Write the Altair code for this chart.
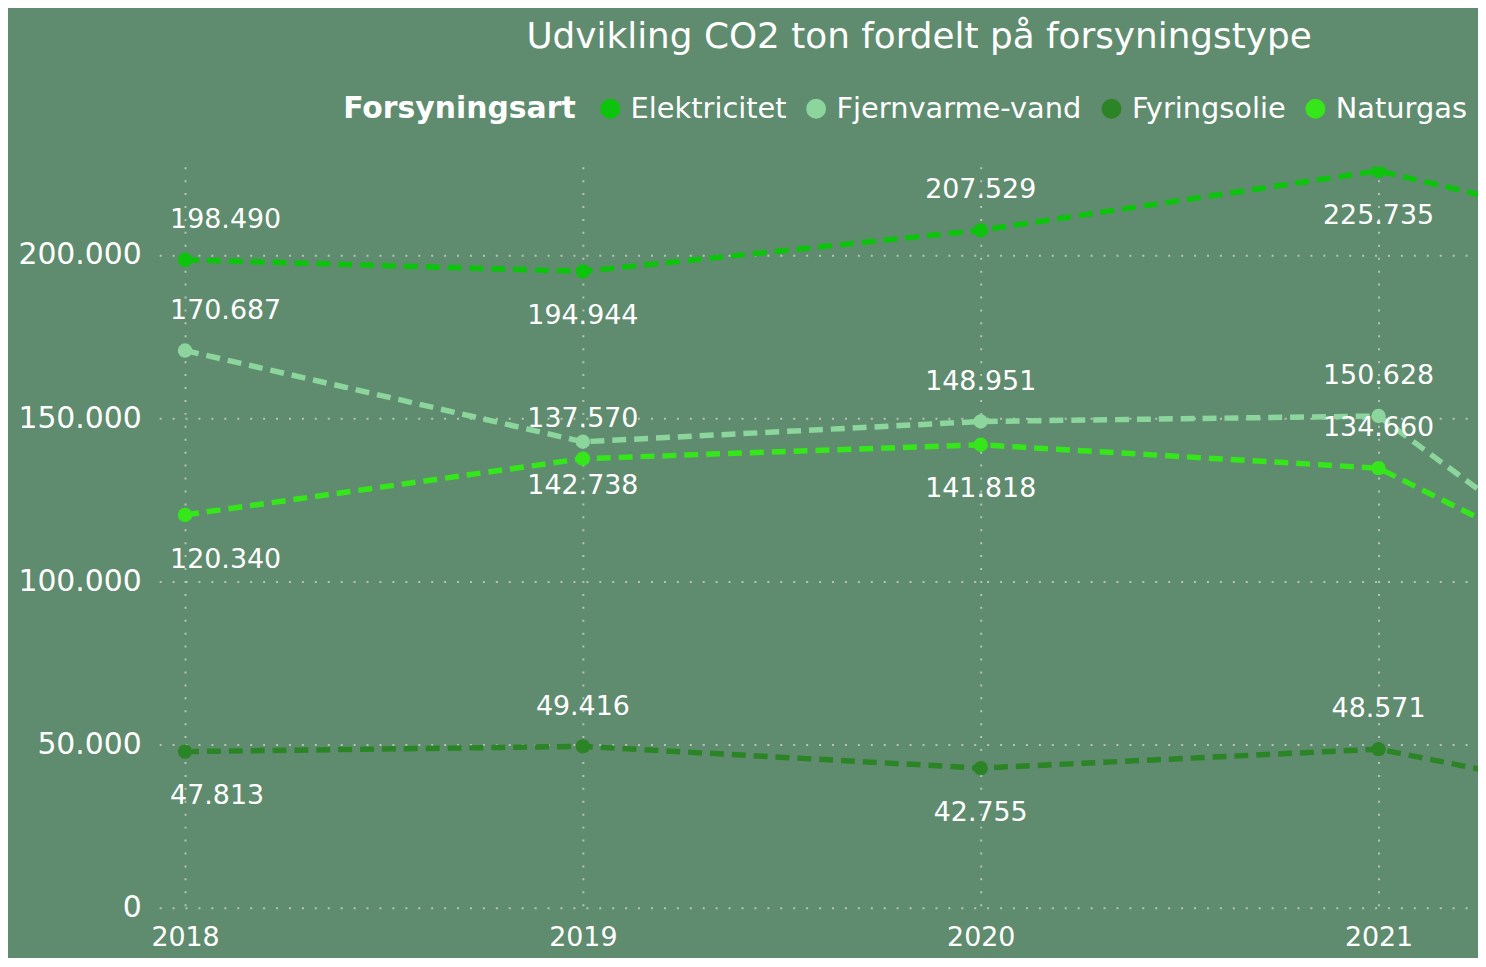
import altair as alt
import pandas as pd

years = [2018, 2019, 2020, 2021, 2022]
series = ["Elektricitet", "Fjernvarme-vand", "Fyringsolie", "Naturgas"]
elektricitet = [198490, 194944, 207529, 225735, 197000]
fjernvarme = [170687, 142738, 148951, 150628, 61000]
fyringsolie = [47813, 49416, 42755, 48571, 24400]
naturgas = [120340, 137570, 141818, 134660, 73800]
colors = ["#0BC40B", "#8CD69E", "#2B8426", "#35E61A"]

# label placement relative to the point (2018..2021)
elek_pos = ["above", "below", "above", "below"]
fjern_pos = ["above", "below", "above", "above"]
fyr_pos = ["below", "above", "below", "above"]
natur_pos = ["below", "above", "below", "above"]

y_ticks = [0, 50000, 100000, 150000, 200000]
x_ticks = [2018, 2019, 2020, 2021]

values = [elektricitet, fjernvarme, fyringsolie, naturgas]
positions = [elek_pos, fjern_pos, fyr_pos, natur_pos]
rows = []
for s, vals, pos in zip(series, values, positions):
    for i, (yr, v) in enumerate(zip(years, vals)):
        rows.append({
            "year": yr,
            "series": s,
            "value": v,
            "label": f"{v:,}".replace(",", "."),
            "pos": pos[i] if i < len(pos) else "none",
        })
df = pd.DataFrame(rows)

FONT = "DejaVu Sans"
BG = "#5F8C6E"
GRID = "#C3CEC6"

color_scale = alt.Scale(domain=series, range=colors)

base = alt.Chart(df).encode(
    x=alt.X(
        "year:Q",
        scale=alt.Scale(domain=[2017.935, 2021.25], nice=False, zero=False),
        axis=alt.Axis(
            values=x_ticks, format="d", title=None, domain=False, ticks=False,
            labelFontSize=27, labelPadding=17, labelColor="#FFFFFF", labelFont=FONT,
            grid=True, gridDash=[2, 11], gridColor=GRID, gridWidth=2, gridOpacity=0.85,
        ),
    ),
    y=alt.Y(
        "value:Q",
        scale=alt.Scale(domain=[0, 227000], nice=False),
        axis=alt.Axis(
            values=y_ticks, title=None, domain=False, ticks=False,
            labelExpr="replace(format(datum.value, ','), ',', '.')",
            labelFontSize=30, labelPadding=18, labelColor="#FFFFFF", labelFont=FONT,
            grid=True, gridDash=[2, 11], gridColor=GRID, gridWidth=2, gridOpacity=0.85,
        ),
    ),
)

line_layers = [
    base.transform_filter(alt.datum.series == s).mark_line(
        color=c, strokeDash=[14, 8], strokeWidth=5.5, clip=True
    )
    for s, c in zip(series, colors)
]

points = base.mark_circle(size=210, opacity=1, clip=True).encode(
    color=alt.Color(
        "series:N",
        scale=color_scale,
        legend=alt.Legend(
            title="Forsyningsart", orient="none", legendX=185, legendY=-73,
            direction="horizontal", titleOrient="left", titleFontSize=30,
            titleFont=FONT, titleFontWeight="bold", titleColor="#FFFFFF",
            titlePadding=20, titleBaseline="middle", titleLimit=500,
            labelFontSize=29, labelFont=FONT, labelColor="#FFFFFF", labelLimit=500,
            symbolSize=400, symbolType="circle", symbolStrokeWidth=0,
            labelOffset=6, columnPadding=15,
        ),
    )
)

text_style = dict(fontSize=27, font=FONT, color="#FFFFFF", baseline="middle", clip=True)

lab_above_first = base.transform_filter(
    (alt.datum.pos == "above") & (alt.datum.year == 2018)
).mark_text(dy=-40, dx=-15, align="left", **text_style).encode(text="label:N")
lab_below_first = base.transform_filter(
    (alt.datum.pos == "below") & (alt.datum.year == 2018)
).mark_text(dy=45, dx=-15, align="left", **text_style).encode(text="label:N")
lab_above = base.transform_filter(
    (alt.datum.pos == "above") & (alt.datum.year > 2018)
).mark_text(dy=-40, align="center", **text_style).encode(text="label:N")
lab_below = base.transform_filter(
    (alt.datum.pos == "below") & (alt.datum.year > 2018)
).mark_text(dy=45, align="center", **text_style).encode(text="label:N")

chart = alt.layer(
    *line_layers, points, lab_above_first, lab_below_first, lab_above, lab_below
).properties(
    width=1326,
    height=745,
    title=alt.TitleParams(
        text="Udvikling CO2 ton fordelt på forsyningstype",
        fontSize=36, font=FONT, fontWeight="normal", color="#FFFFFF",
        anchor="middle", dx=101, dy=-34,
    ),
    autosize=alt.AutoSizeParams(type="none"),
    padding={"left": 152, "top": 157, "right": 0, "bottom": 48},
    background=BG,
).configure_view(stroke=None)

chart.save("out.html", embed_options={"renderer": "svg", "actions": False})
